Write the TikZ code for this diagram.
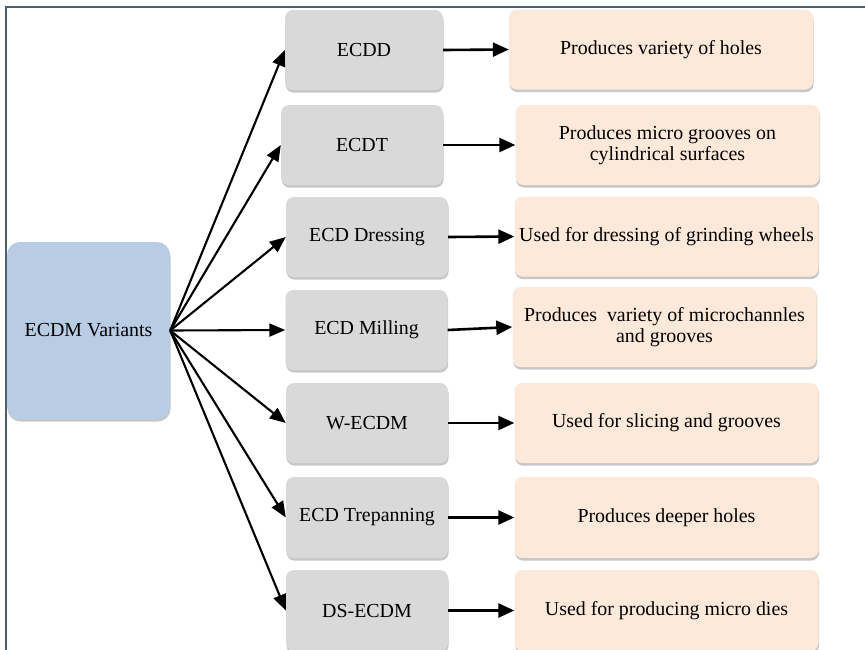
\documentclass[tikz,border=0pt]{standalone}
\usepackage{fontspec}
\setmainfont{Liberation Serif}
\usetikzlibrary{arrows.meta,shadows}
\definecolor{framecol}{HTML}{4F5F73}
\definecolor{grayfill}{HTML}{D9D9D9}
\definecolor{peach}{HTML}{FDE9D9}
\definecolor{bluefill}{HTML}{B8CCE4}
\begin{document}
\begin{tikzpicture}[x=1pt,y=-1pt,
  box/.style={rounded corners=8pt, inner sep=2pt, align=center,
    font=\fontsize{19.9}{20.5}\selectfont,
    drop shadow={shadow xshift=0.6pt,shadow yshift=-2.6pt,opacity=0.4,fill=black!55}},
  vbox/.style={box, fill=grayfill, minimum width=162pt, minimum height=80pt},
  ubox/.style={box, fill=peach, minimum width=304pt, minimum height=80pt},
  arr/.style={line width=2.6pt, -{Triangle[length=16pt,width=14pt]}},
  fan/.style={line width=2.1pt, -{Triangle[length=16pt,width=13pt]}}]
\useasboundingbox (0,0) rectangle (865,649);
\clip (0,0) rectangle (865,649);
\fill[white] (0,0) rectangle (865,649);
\draw[framecol, line width=2.2pt] (6,660) -- (6,7) -- (870,7);

\node[box, fill=bluefill, rounded corners=13pt, minimum width=163pt, minimum height=177pt] (c) at (88.5,330.5) {ECDM Variants};

\node[vbox, minimum width=158pt] (g1) at (364,50) {ECDD};
\node[vbox] (g2) at (362,145) {ECDT};
\node[vbox] (g3) at (367,237) {ECD Dressing};
\node[vbox] (g4) at (366.5,330) {ECD Milling};
\node[vbox] (g5) at (367,423) {W-ECDM};
\node[vbox, minimum height=81pt] (g6) at (367,517.5) {ECD Trepanning};
\node[vbox, minimum height=81pt] (g7) at (367,610.5) {DS-ECDM};

\node[ubox] (o1) at (661,49.5) {Produces variety of holes};
\node[ubox] (o2) at (667.5,145) {Produces micro grooves on\\cylindrical surfaces};
\node[ubox] (o3) at (666.5,236.5) {Used for dressing of grinding wheels};
\node[ubox] (o4) at (664.5,327) {Produces~ variety of microchannles\\and grooves};
\node[ubox] (o5) at (666.5,423) {Used for slicing and grooves};
\node[ubox, minimum height=81pt] (o6) at (666.5,517.5) {Produces deeper holes};
\node[ubox, minimum height=81pt] (o7) at (666.5,610.5) {Used for producing micro dies};

\foreach \i in {1,...,7}{
  \draw[fan] (c.east) -- (g\i.west);
  \draw[arr] (g\i.east) -- (o\i.west);
}
\end{tikzpicture}
\end{document}
